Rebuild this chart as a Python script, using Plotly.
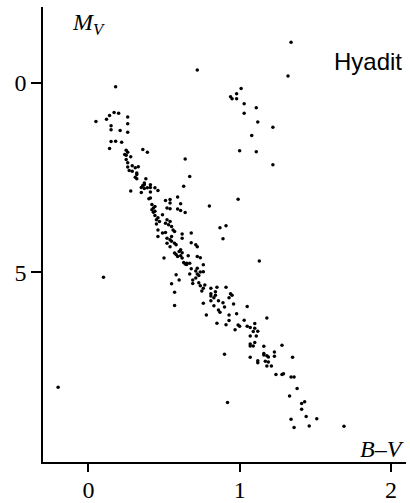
import plotly.graph_objects as go

# B-V colour index and absolute magnitude M_V of Hyades stars
giants_bv = [1.34, 0.72, 1.32, 0.18, 1.01, 0.98, 0.94, 0.95, 0.98, 1.03, 1.11, 1.03, 1.12, 1.22,
             1.08, 1.00, 1.11, 1.22, 0.67, 0.99, 0.80, 0.87, 0.91, 0.89, 0.68, 0.68, 0.71, 0.72,
             0.72, 0.74, 1.13, 0.10, -0.20, 0.92, 0.64, 0.63]
giants_mv = [-1.07, -0.34, -0.18, 0.10, 0.15, 0.29, 0.37, 0.42, 0.42, 0.55, 0.66, 0.80, 1.03, 1.17,
             1.39, 1.79, 1.82, 2.16, 2.47, 3.07, 3.25, 3.82, 3.77, 4.11, 3.96, 4.22, 4.27, 4.32,
             4.58, 4.61, 4.70, 5.13, 8.03, 8.43, 2.01, 2.73]

upper_bv = [0.05, 0.12, 0.14, 0.17, 0.20, 0.26, 0.26, 0.26, 0.15, 0.15, 0.21, 0.15, 0.18, 0.22,
            0.14, 0.36, 0.39, 0.25, 0.26, 0.24, 0.25, 0.28, 0.25, 0.26, 0.29, 0.31, 0.33, 0.26,
            0.27, 0.29, 0.32, 0.32, 0.31, 0.32, 0.38, 0.37, 0.37, 0.35, 0.37, 0.39, 0.41, 0.41,
            0.36, 0.44, 0.46]
upper_mv = [1.02, 0.96, 0.86, 0.78, 0.80, 0.90, 1.08, 1.30, 1.13, 1.24, 1.26, 1.55, 1.54, 1.57,
            1.73, 1.76, 1.83, 1.78, 1.83, 1.89, 1.91, 1.95, 2.02, 2.11, 2.19, 2.24, 2.21, 2.22,
            2.31, 2.33, 2.38, 2.42, 2.49, 2.53, 2.53, 2.64, 2.69, 2.76, 2.79, 2.77, 2.69, 2.76,
            2.71, 2.77, 2.84]

mid_bv = [0.28, 0.35, 0.41, 0.40, 0.41, 0.59, 0.51, 0.54, 0.54, 0.61, 0.42, 0.43, 0.42, 0.44,
          0.43, 0.44, 0.52, 0.54, 0.59, 0.61, 0.64, 0.49, 0.44, 0.46, 0.45, 0.47, 0.45, 0.52,
          0.51, 0.54, 0.53, 0.55, 0.56, 0.57, 0.46, 0.49, 0.51, 0.46, 0.62, 0.62, 0.52, 0.54,
          0.55, 0.55, 0.57, 0.58, 0.52, 0.54]
mid_mv = [2.85, 2.89, 2.88, 3.06, 3.04, 3.01, 3.10, 3.08, 3.17, 3.19, 3.21, 3.30, 3.35, 3.39,
          3.41, 3.26, 3.30, 3.32, 3.33, 3.37, 3.42, 3.48, 3.50, 3.56, 3.61, 3.66, 3.72, 3.61,
          3.70, 3.66, 3.74, 3.79, 3.88, 3.92, 3.88, 3.96, 3.95, 4.05, 3.99, 4.10, 4.10, 4.14,
          4.05, 4.18, 4.23, 4.27, 4.23, 4.32]

low_bv = [0.50, 0.57, 0.58, 0.60, 0.61, 0.62, 0.61, 0.59, 0.62, 0.66, 0.63, 0.64, 0.65, 0.67,
          0.65, 0.72, 0.76, 0.68, 0.71, 0.67, 0.58, 0.74, 0.76, 0.72, 0.73, 0.60, 0.69, 0.71,
          0.69, 0.55, 0.73, 0.74, 0.77, 0.76, 0.75, 0.81, 0.85, 0.84, 0.81, 0.91, 0.57, 0.81,
          0.83, 0.84, 0.94, 0.95, 0.93, 0.57]
low_mv = [4.62, 4.49, 4.53, 4.45, 4.40, 4.48, 4.56, 4.58, 4.62, 4.56, 4.74, 4.78, 4.76, 4.76,
          4.79, 4.89, 4.80, 4.90, 4.96, 5.04, 5.06, 4.99, 4.98, 5.04, 5.08, 5.20, 5.20, 5.15,
          5.29, 5.30, 5.27, 5.35, 5.33, 5.42, 5.49, 5.42, 5.39, 5.51, 5.56, 5.39, 5.52, 5.62,
          5.67, 5.60, 5.56, 5.60, 5.67, 5.87]

red_bv = [0.76, 0.81, 0.86, 0.89, 0.83, 0.90, 0.96, 1.05, 0.86, 0.87, 0.93, 0.98, 0.78, 1.18,
          1.03, 0.85, 0.93, 0.91, 0.99, 1.00, 1.05, 1.07, 1.10, 0.97, 1.10, 1.09, 1.12, 1.07,
          1.11, 1.10, 1.07, 1.07, 1.09, 1.16, 1.28, 1.23, 1.23, 1.16, 1.16, 1.18, 1.19, 0.90,
          1.07, 1.35, 1.12, 1.12]
red_mv = [5.81, 5.75, 5.75, 5.80, 5.88, 5.91, 5.83, 5.90, 5.99, 6.05, 6.12, 6.09, 6.12, 6.20,
          6.26, 6.34, 6.27, 6.38, 6.39, 6.42, 6.42, 6.45, 6.35, 6.51, 6.47, 6.56, 6.55, 6.68,
          6.68, 6.85, 6.89, 6.94, 6.94, 6.95, 6.92, 7.10, 7.21, 7.18, 7.14, 7.20, 7.23, 7.16,
          7.24, 7.24, 7.33, 7.38]

dwarf_bv = [1.17, 1.19, 1.18, 1.21, 1.24, 1.28, 1.29, 1.34, 1.36, 1.38, 1.33, 1.43, 1.41, 1.41,
            1.44, 1.51, 1.34, 1.36, 1.46, 1.69]
dwarf_mv = [7.34, 7.36, 7.47, 7.47, 7.69, 7.69, 7.67, 7.76, 7.76, 8.06, 8.26, 8.41, 8.46, 8.61,
            8.80, 8.86, 8.87, 9.09, 9.05, 9.06]

bv = giants_bv + upper_bv + mid_bv + low_bv + red_bv + dwarf_bv
mv = giants_mv + upper_mv + mid_mv + low_mv + red_mv + dwarf_mv

x_ticks = [0, 1, 2]
y_ticks = [0, 5]

fig = go.Figure()
fig.add_trace(go.Scatter(
    x=bv, y=mv, mode="markers",
    marker=dict(color="black", size=3.5, line=dict(width=0)),
    hoverinfo="skip", showlegend=False,
))

serif = "Liberation Serif, Times New Roman, serif"
axis_common = dict(
    showgrid=False, zeroline=False, showline=True, linecolor="black", linewidth=1.5,
    ticks="outside", tickcolor="black", tickwidth=1.5, automargin=False,
    tickfont=dict(family=serif, size=24, color="black"),
)

fig.update_layout(
    width=410, height=503,
    margin=dict(l=43, r=4, t=7, b=41),
    paper_bgcolor="white", plot_bgcolor="white",
    xaxis=dict(range=[-0.30, 2.10], tickvals=x_ticks, ticklen=8, ticklabelstandoff=-3,
               **axis_common),
    yaxis=dict(range=[10, -2], tickvals=y_ticks, ticklen=10, **axis_common),
    annotations=[
        dict(text="<i>M</i><sub><i>V</i></sub>", xref="paper", yref="paper",
             x=0.075, y=1.0, xanchor="left", yanchor="top", showarrow=False,
             font=dict(family=serif, size=24, color="black")),
        dict(text="Hyadit", xref="paper", yref="paper",
             x=0.995, y=0.881, xanchor="right", yanchor="middle", showarrow=False,
             font=dict(family="Liberation Sans, Arial, sans-serif", size=24, color="black")),
        dict(text="<i>B</i>\u2013<i>V</i>", xref="paper", yref="paper",
             x=1.0, y=-0.005, xanchor="right", yanchor="bottom", showarrow=False,
             font=dict(family=serif, size=24, color="black")),
    ],
)

fig.write_html("out.html", config={"displayModeBar": False},
               post_script="document.body.style.margin='0';")
